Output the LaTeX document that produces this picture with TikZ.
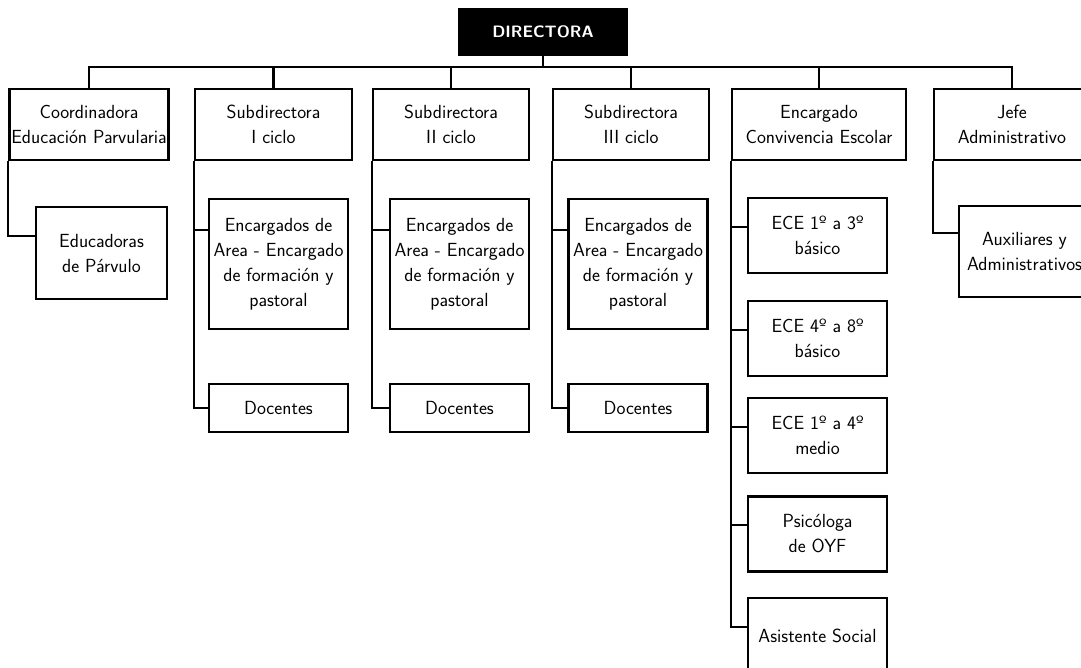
\documentclass[tikz,border=0pt]{standalone}
\begin{document}
\begin{tikzpicture}[x=1pt,y=-1pt,
    caja/.style={draw, line width=2.5pt, align=center, inner sep=2pt,
      font=\sffamily\fontsize{19}{25}\selectfont},
    jefatura/.style={caja, minimum width=156, minimum height=71},
    hijo/.style={caja, minimum width=139, minimum height=75},
    linea/.style={line width=2.2pt}]
  \useasboundingbox (0,0) rectangle (1081,668);
  \clip (0,0) rectangle (1081,668);
  % Direction et premier niveau
  \node[caja, fill=black, text=white, minimum width=168, minimum height=46,
    font=\sffamily\bfseries\fontsize{16.5}{24}\selectfont] (directora) at (543,32) {DIRECTORA};
  \coordinate (bus) at (543,67);
  \node[jefatura] (coord) at (89,124.5) {Coordinadora\\Educación Parvularia};
  \node[jefatura, minimum width=157] (sub1) at (273.5,124.5) {Subdirectora\\I ciclo};
  \node[jefatura] (sub2) at (451,124.5) {Subdirectora\\II ciclo};
  \node[jefatura] (sub3) at (631,124.5) {Subdirectora\\III ciclo};
  \node[jefatura, minimum width=174] (conv) at (819,124.5) {Encargado\\Convivencia Escolar};
  \node[jefatura] (jefe) at (1012,124.5) {Jefe\\Administrativo};
  \draw[linea] (directora.south) -- (bus);
  \foreach \n in {coord,sub1,sub2,sub3,conv,jefe}
    \draw[linea] (\n.north) |- (bus);
  % Second niveau
  \node[hijo, minimum width=131, minimum height=92] (educ) at (101.5,253) {Educadoras\\de Párvulo};
  \node[hijo, minimum width=131, minimum height=91] (aux) at (1024.5,251.5) {Auxiliares y\\Administrativos};
  \foreach \e/\d/\x in {enc1/doc1/278.5, enc2/doc2/459.5, enc3/doc3/638}{
    \node[hijo, minimum height=130] (\e) at (\x,264) {Encargados de\\Area - Encargado\\de formación y\\pastoral};
    \node[hijo, minimum height=48] (\d) at (\x,408) {Docentes};
  }
  \node[hijo] (ece1) at (817.5,235.5) {ECE 1º a 3º\\básico};
  \node[hijo] (ece2) at (817.5,338.5) {ECE 4º a 8º\\básico};
  \node[hijo] (ece3) at (817.5,435.5) {ECE 1º a 4º\\medio};
  \node[hijo] (psico) at (817.5,534) {Psicóloga\\de OYF};
  \node[hijo] (asist) at (817.5,635.5) {Asistente Social};
  \draw[linea] (coord.south west) |- ([yshift=-30pt]educ.north west);
  \draw[linea] (jefe.south west) |- ([yshift=-28pt]aux.north west);
  \foreach \s/\e/\d in {sub1/enc1/doc1, sub2/enc2/doc2, sub3/enc3/doc3}{
    \draw[linea] (\s.south west) |- ([yshift=-32pt]\e.north west);
    \draw[linea] (\s.south west) |- (\d.west);
  }
  \foreach \h in {ece1,ece2,ece3,psico,asist}
    \draw[linea] (conv.south west) |- ([yshift=-30pt]\h.north west);
\end{tikzpicture}
\end{document}
